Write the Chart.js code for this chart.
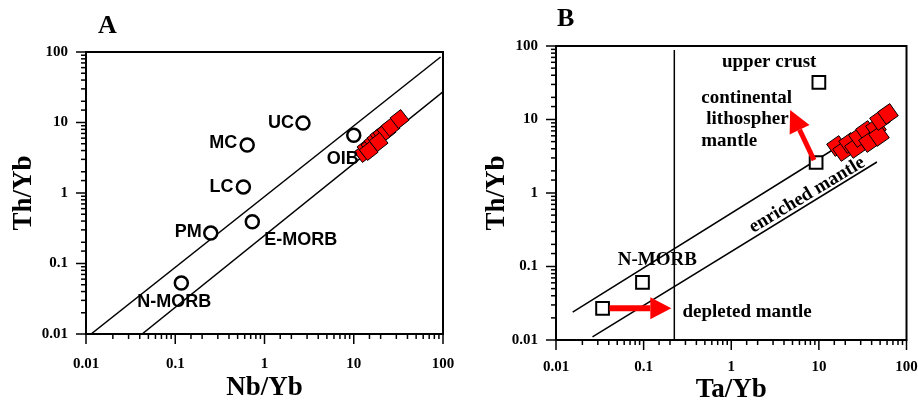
<!DOCTYPE html>
<html>
<head>
<meta charset="utf-8">
<script src="https://cdn.jsdelivr.net/npm/chart.js@4"></script>
<style>
  html, body { margin: 0; padding: 0; background: #fff; }
  #wrap { position: relative; width: 918px; height: 407px; overflow: hidden; }
  .panel { position: absolute; top: 0; width: 459px; height: 407px; }
</style>
</head>
<body>
<div id="wrap">
  <div class="panel" style="left:0"><canvas id="chartA"></canvas></div>
  <div class="panel" style="left:459px"><canvas id="chartB"></canvas></div>
</div>
<script>
// ---- shared axis ticks ----
const tickValues = [0.01, 0.1, 1, 10, 100];
const tickLabels = ['0.01', '0.1', '1', '10', '100'];

// ---- panel A : Th/Yb vs Nb/Yb ----
const refNamesA = ['UC', 'MC', 'LC', 'OIB', 'PM', 'E-MORB', 'N-MORB'];
const refNbYb   = [2.7, 0.64, 0.58, 10, 0.25, 0.73, 0.117];
const refThYbA  = [9.8, 4.8, 1.22, 6.6, 0.27, 0.39, 0.053];
const sampleNbYb  = [12.9, 13.9, 15.4, 16.7, 18.0, 19.5, 21.0, 23.3, 25.9, 32.6, 14.7, 19.0];
const sampleThYbA = [3.69, 4.35, 4.64, 5.29, 5.83, 6.44, 6.87, 7.57, 8.63, 11.2, 3.94, 5.29];
const upperArrayA_x = [0.0114, 94];
const upperArrayA_y = [0.01, 85];
const lowerArrayA_x = [0.0425, 99];
const lowerArrayA_y = [0.01, 27];

// ---- panel B : Th/Yb vs Ta/Yb ----
const refNamesB = ['upper crust', 'continental lithosphere', 'N-MORB', 'depleted'];
const refTaYb   = [10, 9.3, 0.097, 0.034];
const refThYbB  = [32, 2.6, 0.061, 0.027];
const sampleTaYb  = [16.1, 18.9, 22.1, 25.8, 28.7, 34.5, 37.3, 44.8, 48.5, 49.8, 61.4];
const sampleThYbB = [4.36, 3.73, 4.79, 4.10, 5.78, 6.98, 4.94, 7.66, 5.97, 9.85, 11.9];
const upperArrayB_x = [0.0155, 28.7];
const upperArrayB_y = [0.024, 6.45];
const lowerArrayB_x = [0.0261, 46];
const lowerArrayB_y = [0.011, 2.64];
const splitLineB_x = [0.224, 0.224];
const splitLineB_y = [0.01, 88];
// trend arrows: [tail x, tail y, tip x, tip y]
const arrowLithosphere = [8.8, 2.8, 4.7, 13.5];
const arrowDepleted    = [0.0408, 0.027, 0.207, 0.027];

const SERIF = "'Liberation Serif', 'Times New Roman', serif";
const SANS = "'Liberation Sans', Arial, sans-serif";
const RED = '#ff0000';

function toPoints(xs, ys) {
  return xs.map((x, i) => ({ x: x, y: ys[i] }));
}

function tickText(v) {
  const i = tickValues.findIndex(t => Math.abs(Math.log10(t) - Math.log10(v)) < 1e-6);
  return i >= 0 ? tickLabels[i] : '';
}

function logAxis(o) {
  return {
    type: 'logarithmic',
    position: o.position,
    min: 0.01,
    max: 100,
    grid: { display: false, drawTicks: false },
    border: { display: false },
    ticks: {
      autoSkip: false,
      maxRotation: 0,
      padding: o.padding,
      color: '#000',
      font: { family: SERIF, size: 15, weight: 'bold' },
      callback: (v) => tickText(v)
    },
    title: {
      display: true,
      text: o.title,
      color: '#000',
      padding: 0,
      font: { family: SERIF, size: 27, weight: 'bold' }
    },
    afterFit: (s) => {
      if (o.width) s.width = o.width;
      if (o.height) {
        s.height = o.height;
        // let the end labels hang over the layout padding
        s.paddingLeft = 0;
        s.paddingRight = 0;
      }
    }
  };
}

function lineSet(xs, ys) {
  return {
    data: toPoints(xs, ys),
    showLine: true,
    borderColor: '#000',
    borderWidth: 1.5,
    pointRadius: 0,
    order: 3
  };
}

// frame, tick marks, letter, annotations
function decorPlugin(letter, extra) {
  return {
    id: 'decor' + letter,
    afterDatasetsDraw(chart) {
      const ctx = chart.ctx;
      const a = chart.chartArea;
      const xs = chart.scales.x, ys = chart.scales.y;
      ctx.save();
      ctx.strokeStyle = '#000';
      ctx.lineWidth = 2;
      ctx.strokeRect(a.left, a.top, a.right - a.left, a.bottom - a.top);
      ctx.lineWidth = 1.5;
      xs.ticks.forEach(t => {
        const p = xs.getPixelForValue(t.value);
        const len = tickText(t.value) ? 10 : 5;
        ctx.beginPath();
        ctx.moveTo(p, a.bottom);
        ctx.lineTo(p, a.bottom + len);
        ctx.stroke();
      });
      ys.ticks.forEach(t => {
        const p = ys.getPixelForValue(t.value);
        const len = tickText(t.value) ? 10 : 5;
        ctx.beginPath();
        ctx.moveTo(a.left, p);
        ctx.lineTo(a.left - len, p);
        ctx.stroke();
      });
      ctx.fillStyle = '#000';
      ctx.font = 'bold 26px ' + SERIF;
      ctx.textAlign = 'left';
      ctx.textBaseline = 'middle';
      ctx.fillText(letter, 98, letter === 'A' ? 26 : 19);
      extra(chart, ctx);
      ctx.restore();
    }
  };
}

function drawArrow(chart, ctx, arr, shaft, headLen, headHalf) {
  const xs = chart.scales.x, ys = chart.scales.y;
  const x0 = xs.getPixelForValue(arr[0]), y0 = ys.getPixelForValue(arr[1]);
  const x1 = xs.getPixelForValue(arr[2]), y1 = ys.getPixelForValue(arr[3]);
  const ang = Math.atan2(y1 - y0, x1 - x0);
  const bx = x1 - headLen * Math.cos(ang), by = y1 - headLen * Math.sin(ang);
  ctx.strokeStyle = RED;
  ctx.fillStyle = RED;
  ctx.lineWidth = shaft;
  ctx.beginPath();
  ctx.moveTo(x0, y0);
  ctx.lineTo(bx, by);
  ctx.stroke();
  ctx.beginPath();
  ctx.moveTo(x1, y1);
  ctx.lineTo(bx + headHalf * Math.sin(ang), by - headHalf * Math.cos(ang));
  ctx.lineTo(bx - headHalf * Math.sin(ang), by + headHalf * Math.cos(ang));
  ctx.closePath();
  ctx.fill();
}

// label placement for panel A, relative to each reference point (px)
const labelOffsetA = [
  { dx: -9, dy: 0, align: 'right' },
  { dx: -10, dy: -2, align: 'right' },
  { dx: -10, dy: 0, align: 'right' },
  { dx: -11, dy: 24, align: 'center' },
  { dx: -9, dy: -1, align: 'right' },
  { dx: 12, dy: 18, align: 'left' },
  { dx: -7, dy: 19, align: 'center' }
];

function drawLabelsA(chart, ctx) {
  const xs = chart.scales.x, ys = chart.scales.y;
  ctx.fillStyle = '#000';
  ctx.font = 'bold 18px ' + SANS;
  ctx.textBaseline = 'middle';
  refNamesA.forEach((name, i) => {
    const o = labelOffsetA[i];
    ctx.textAlign = o.align;
    ctx.fillText(name, xs.getPixelForValue(refNbYb[i]) + o.dx, ys.getPixelForValue(refThYbA[i]) + o.dy);
  });
}

// text annotations for panel B, in data units
const notesB = [
  { text: 'upper crust', x: 2.71, y: 60.6, align: 'center' },
  { text: 'continental', x: 0.455, y: 19.6, align: 'left' },
  { text: 'lithospher', x: 0.519, y: 10.2, align: 'left' },
  { text: 'mantle', x: 0.455, y: 5.1, align: 'left' },
  { text: 'N-MORB', x: 0.1436, y: 0.1226, align: 'center' },
  { text: 'depleted mantle', x: 0.277, y: 0.024, align: 'left' }
];

function drawLabelsB(chart, ctx) {
  const xs = chart.scales.x, ys = chart.scales.y;
  drawArrow(chart, ctx, arrowLithosphere, 5, 22, 11);
  drawArrow(chart, ctx, arrowDepleted, 6, 21, 11);
  ctx.fillStyle = '#000';
  ctx.font = 'bold 19px ' + SERIF;
  ctx.textBaseline = 'middle';
  notesB.forEach(n => {
    ctx.textAlign = n.align;
    ctx.fillText(n.text, xs.getPixelForValue(n.x), ys.getPixelForValue(n.y));
  });
  ctx.save();
  ctx.translate(xs.getPixelForValue(7.34), ys.getPixelForValue(0.94));
  ctx.rotate(-31 * Math.PI / 180);
  ctx.textAlign = 'center';
  ctx.fillText('enriched mantle', 0, 0);
  ctx.restore();
}

function baseOptions(pad, yWidth, xHeight, xTitle, xPad) {
  return {
    responsive: true,
    maintainAspectRatio: false,
    animation: false,
    events: [],
    layout: { padding: pad },
    plugins: { legend: { display: false }, tooltip: { enabled: false } },
    scales: {
      x: logAxis({ position: 'bottom', padding: xPad, height: xHeight, title: xTitle }),
      y: logAxis({ position: 'left', padding: 18, width: yWidth, title: 'Th/Yb' })
    }
  };
}

new Chart(document.getElementById('chartA'), {
  type: 'scatter',
  data: {
    datasets: [
      lineSet(upperArrayA_x, upperArrayA_y),
      lineSet(lowerArrayA_x, lowerArrayA_y),
      {
        data: toPoints(refNbYb, refThYbA),
        pointStyle: 'circle',
        pointRadius: 6.5,
        borderColor: '#000',
        borderWidth: 2.5,
        backgroundColor: '#fff',
        order: 2
      },
      {
        data: toPoints(sampleNbYb, sampleThYbA),
        pointStyle: 'rect',
        rotation: -38,
        pointRadius: 9.5,
        borderColor: '#000',
        borderWidth: 1,
        backgroundColor: RED,
        order: 1
      }
    ]
  },
  options: baseOptions({ left: 8, right: 16, top: 52, bottom: 3 }, 78, 70, 'Nb/Yb', 21),
  plugins: [decorPlugin('A', drawLabelsA)]
});

new Chart(document.getElementById('chartB'), {
  type: 'scatter',
  data: {
    datasets: [
      lineSet(upperArrayB_x, upperArrayB_y),
      lineSet(lowerArrayB_x, lowerArrayB_y),
      lineSet(splitLineB_x, splitLineB_y),
      {
        data: toPoints(refTaYb, refThYbB),
        pointStyle: 'rect',
        pointRadius: 9,
        borderColor: '#000',
        borderWidth: 2,
        backgroundColor: '#fff',
        order: 2
      },
      {
        data: toPoints(sampleTaYb, sampleThYbB),
        pointStyle: 'rect',
        rotation: -35,
        pointRadius: 10.5,
        borderColor: '#000',
        borderWidth: 1,
        backgroundColor: RED,
        order: 1
      }
    ]
  },
  options: baseOptions({ left: 22, right: 11, top: 46, bottom: 1 }, 75, 66, 'Ta/Yb', 18),
  plugins: [decorPlugin('B', drawLabelsB)]
});
</script>
</body>
</html>
